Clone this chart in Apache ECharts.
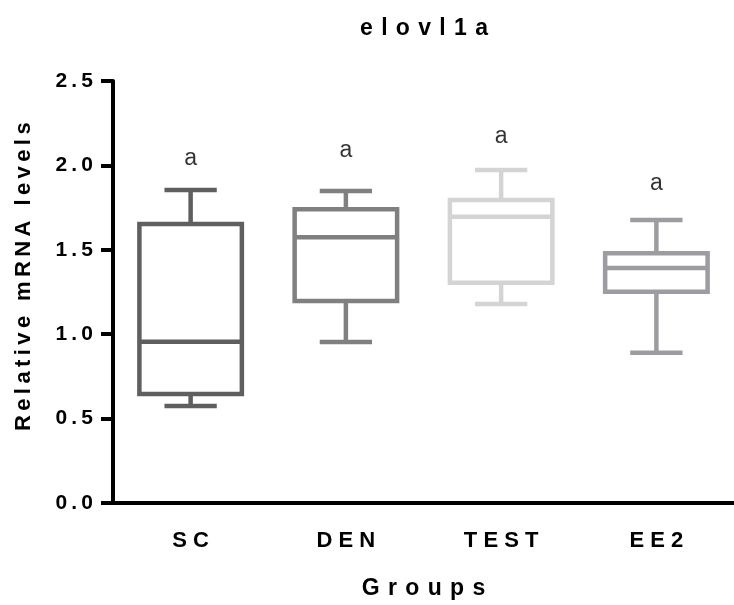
<!DOCTYPE html>
<html>
<head>
<meta charset="utf-8">
<script src="https://cdn.jsdelivr.net/npm/echarts@6/dist/echarts.min.js"></script>
<style>
  html, body { margin: 0; padding: 0; background: #fff; }
  #main { width: 734px; height: 605px; }
</style>
</head>
<body>
<div id="main"></div>
<script>
// groups and box values
const groups = ['SC', 'DEN', 'TEST', 'EE2'];
const whiskerLow = [0.575, 0.954, 1.179, 0.890];
const q1 = [0.646, 1.197, 1.305, 1.252];
const median = [0.956, 1.574, 1.696, 1.392];
const q3 = [1.653, 1.740, 1.795, 1.479];
const whiskerHigh = [1.854, 1.848, 1.973, 1.677];
// significance letters above each box
const letters = ['a', 'a', 'a', 'a'];
const letterY = [2.04, 2.09, 2.17, 1.89];

const boxColors = ['#5f5f5f', '#808080', '#d4d4d4', '#9d9da1'];
const font = 'Liberation Sans, Arial, sans-serif';

// no letter-spacing in canvas text, so pad between chars
const THIN = '\u2009';
const WIDE = ' ';
const WIDER = ' \u200a';
function spaced(s, gap) {
  return String(s).split('').join(gap);
}

const boxData = groups.map(function (g, i) {
  return [i, whiskerLow[i], q1[i], median[i], q3[i], whiskerHigh[i]];
});
const letterData = groups.map(function (g, i) {
  return [i, letterY[i], letters[i]];
});

function renderBox(params, api) {
  const i = api.value(0);
  const x = api.coord([i, 0])[0];
  const band = api.size([1, 0])[0];
  const bw = band * 0.66;
  const cw = band * 0.337;
  const y = function (k) { return api.coord([i, api.value(k)])[1]; };
  const lo = y(1), b1 = y(2), md = y(3), b3 = y(4), hi = y(5);
  const st = { stroke: boxColors[i], lineWidth: 4.5, fill: null };
  return {
    type: 'group',
    children: [
      { type: 'line', shape: { x1: x, y1: b3, x2: x, y2: hi }, style: st },
      { type: 'line', shape: { x1: x, y1: b1, x2: x, y2: lo }, style: st },
      { type: 'line', shape: { x1: x - cw / 2, y1: hi, x2: x + cw / 2, y2: hi }, style: st },
      { type: 'line', shape: { x1: x - cw / 2, y1: lo, x2: x + cw / 2, y2: lo }, style: st },
      { type: 'rect', shape: { x: x - bw / 2, y: b3, width: bw, height: b1 - b3 },
        style: { stroke: boxColors[i], lineWidth: 4.5, fill: '#fff' } },
      { type: 'line', shape: { x1: x - bw / 2, y1: md, x2: x + bw / 2, y2: md }, style: st }
    ]
  };
}

const chart = echarts.init(document.getElementById('main'), null, { renderer: 'canvas' });

const option = {
  backgroundColor: '#fff',
  animation: false,
  title: {
    text: spaced('elovl1a', WIDER),
    left: 419,
    top: 12,
    textAlign: 'center',
    textStyle: { fontFamily: font, fontWeight: 'bold', fontSize: 23, color: '#000' }
  },
  grid: {
    left: 113,
    top: 81,
    width: 629,
    height: 422
  },
  xAxis: {
    type: 'category',
    data: groups,
    boundaryGap: true,
    name: spaced('Groups', WIDER),
    nameLocation: 'middle',
    nameGap: 74,
    nameTextStyle: { fontFamily: font, fontWeight: 'bold', fontSize: 23, color: '#000' },
    axisLine: { lineStyle: { color: '#000', width: 4 } },
    axisTick: { alignWithLabel: true, length: 12, lineStyle: { color: '#000', width: 4 } },
    axisLabel: {
      margin: 27,
      fontFamily: font, fontWeight: 'bold', fontSize: 22, color: '#000',
      formatter: function (v) { return spaced(v, WIDE); }
    },
    splitLine: { show: false }
  },
  yAxis: {
    type: 'value',
    min: 0,
    max: 2.5,
    interval: 0.5,
    // leading pad nudges the centred name up, as in the source
    name: WIDE.repeat(5) + spaced('Relative mRNA levels', THIN),
    nameLocation: 'middle',
    nameGap: 78,
    nameTextStyle: { fontFamily: font, fontWeight: 'bold', fontSize: 22, color: '#000' },
    axisLine: { show: true, lineStyle: { color: '#000', width: 4 } },
    axisTick: { show: true, length: 12, lineStyle: { color: '#000', width: 4 } },
    axisLabel: {
      margin: 20,
      fontFamily: font, fontWeight: 'bold', fontSize: 21, color: '#000',
      formatter: function (v) { return spaced(v.toFixed(1), THIN); }
    },
    splitLine: { show: false }
  },
  series: [
    {
      type: 'custom',
      renderItem: renderBox,
      encode: { x: 0, y: [1, 2, 3, 4, 5] },
      data: boxData,
      z: 3
    },
    {
      type: 'scatter',
      symbolSize: 0,
      data: letterData,
      label: {
        show: true,
        position: 'inside',
        formatter: function (p) { return p.value[2]; },
        fontFamily: font,
        fontSize: 23,
        color: '#000'
      },
      z: 4
    }
  ]
};

chart.setOption(option);
</script>
</body>
</html>
